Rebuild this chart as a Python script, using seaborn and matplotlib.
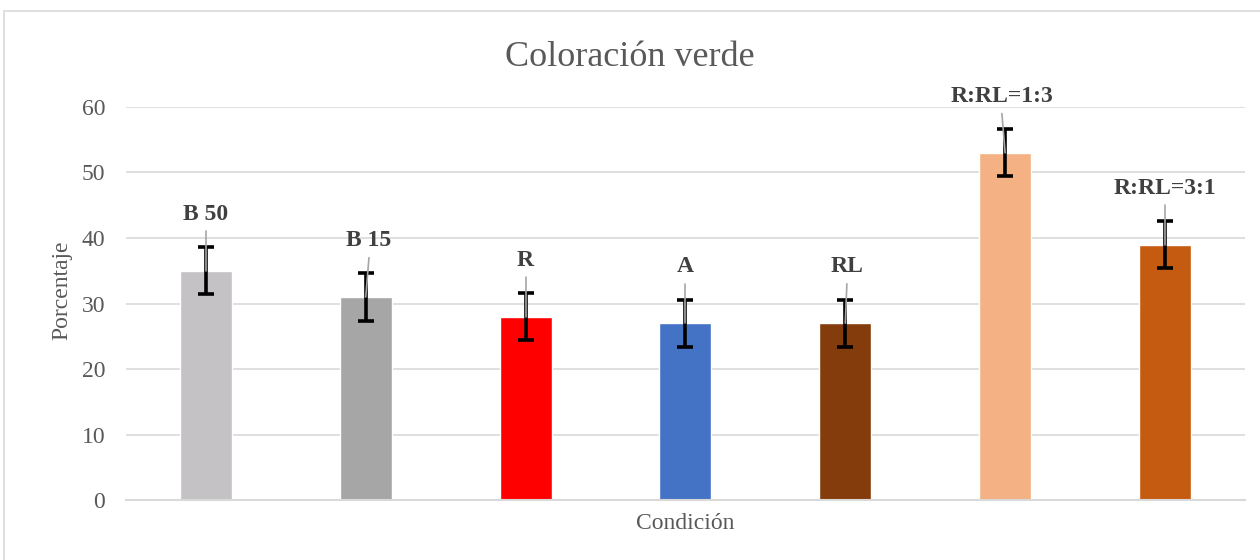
import numpy as np
import pandas as pd
import matplotlib
matplotlib.use("Agg")
import matplotlib.pyplot as plt
import matplotlib.patches as mpatches
import seaborn as sns

# Data
condiciones = ["B 50", "B 15", "R", "A", "RL", "R:RL=1:3", "R:RL=3:1"]
porcentaje = [35, 31, 28, 27, 27, 53, 39]
error = [3.6, 3.6, 3.6, 3.6, 3.6, 3.6, 3.6]
colores = ["#C4C2C4", "#A6A6A6", "#FF0000", "#4472C4", "#843C0C", "#F4B183", "#C55A11"]
yticks = [0, 10, 20, 30, 40, 50, 60]

df = pd.DataFrame({"Condición": condiciones, "Porcentaje": porcentaje})

sns.set_style("white")
plt.rcParams["font.family"] = ["Liberation Serif", "DejaVu Serif"]

fig = plt.figure(figsize=(12.6, 5.6), dpi=100)
ax = fig.add_axes([0.1, 0.107, 0.888, 0.702])

sns.barplot(data=df, x="Condición", y="Porcentaje", hue="Condición",
            palette=colores, saturation=1, width=0.325, legend=False,
            ax=ax, zorder=2)

x = np.arange(len(condiciones))
ax.errorbar(x, porcentaje, yerr=error, fmt="none", ecolor="black",
            elinewidth=2.6, capsize=5.5, capthick=2.6, zorder=3)

# data labels with leader lines
dx = [0, 0.02, 0, 0, 0.01, -0.02, 0]
for i, (v, e) in enumerate(zip(porcentaje, error)):
    ly = v + e + 5
    ax.plot([i + dx[i], i], [ly - 2.6, v], color="#A6A6A6", lw=1.2,
            zorder=4, clip_on=False)
    ax.text(i + dx[i], ly, condiciones[i], ha="center", va="center",
            fontsize=17, fontweight="bold", color="#404040", clip_on=False)

ax.set_ylim(0, 60)
ax.set_xlim(-0.5, len(condiciones) - 0.5)
ax.set_yticks(yticks)
ax.set_xticks([])
ax.yaxis.grid(True, color="#D9D9D9", lw=1.2, zorder=0)
ax.set_axisbelow(True)
for s in ["top", "right", "left"]:
    ax.spines[s].set_visible(False)
ax.spines["bottom"].set_color("#D9D9D9")
ax.spines["bottom"].set_linewidth(1.5)
ax.tick_params(axis="y", length=0, pad=15, labelsize=17, labelcolor="#595959")

ax.set_ylabel("Porcentaje", fontsize=17, color="#595959")
ax.yaxis.set_label_coords(-0.048, 0.535)
ax.set_xlabel("Condición", fontsize=17, color="#595959")
ax.xaxis.set_label_coords(0.5, -0.033)
fig.text(0.5, 0.898, "Coloración verde", ha="center", va="center",
         fontsize=26, color="#595959")

# chart border
fig.patches.append(mpatches.Rectangle((0.003, -0.1), 1.2, 1.08, transform=fig.transFigure,
                                      fill=False, edgecolor="#D9D9D9", lw=1.2))

fig.savefig("out.png", dpi=100)
